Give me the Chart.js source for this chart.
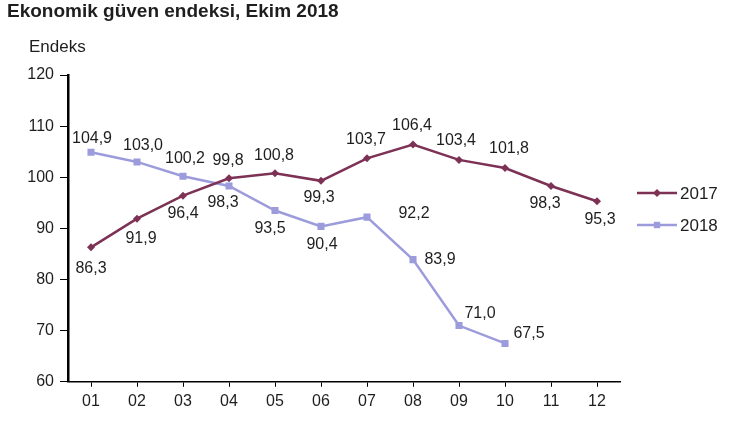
<!DOCTYPE html>
<html>
<head>
<meta charset="utf-8">
<script src="https://cdn.jsdelivr.net/npm/chart.js@4.4.0/dist/chart.umd.min.js"></script>
<style>
  html, body { margin: 0; padding: 0; background: #fff; }
  #wrap { width: 750px; height: 422px; }
</style>
</head>
<body>
<div id="wrap"><canvas id="guvenChart"></canvas></div>
<script>
// Chart data
const months = ['01', '02', '03', '04', '05', '06', '07', '08', '09', '10', '11', '12'];
const values2017 = [86.3, 91.9, 96.4, 99.8, 100.8, 99.3, 103.7, 106.4, 103.4, 101.8, 98.3, 95.3];
const values2018 = [104.9, 103.0, 100.2, 98.3, 93.5, 90.4, 92.2, 83.9, 71.0, 67.5];
const seriesNames = ['2017', '2018'];
const yMin = 60, yMax = 120, yStep = 10;

// Label offsets (dx, dy) relative to each point
const labelOffsets2017 = [[0, 21], [4, 20], [0, 18], [-1, -18], [-1, -18], [-2, 17], [-1, -19], [-1, -19], [-3, -19], [4, -19], [-6, 18], [3, 18]];
const labelOffsets2018 = [[1, -14], [6, -16], [2, -18], [-6, 17], [-5, 18], [1, 18], [47, -4], [27, 0], [21, -12], [24, -10]];

const color2017 = '#7d3155';
const color2018 = '#9c9cdc';
const textColor = '#1e1e1e';
const fontFamily = "'Liberation Sans', Arial, sans-serif";

function fmt(v) {
    return v.toFixed(1).replace('.', ',');
}

// Draws title, axis caption, point values and the legend
const decorPlugin = {
    id: 'decor',
    afterDatasetsDraw(chart) {
        const ctx = chart.ctx;
        ctx.save();
        ctx.fillStyle = textColor;

        // title
        ctx.font = 'bold 19px ' + fontFamily;
        ctx.textAlign = 'left';
        ctx.textBaseline = 'middle';
        ctx.fillText('Ekonomik güven endeksi, Ekim 2018', 7, 12);

        // axis caption
        ctx.font = '17px ' + fontFamily;
        ctx.fillText('Endeks', 29, 47);

        // value labels
        ctx.font = '16px ' + fontFamily;
        ctx.textAlign = 'center';
        const offsets = [labelOffsets2017, labelOffsets2018];
        chart.data.datasets.forEach((ds, di) => {
            const meta = chart.getDatasetMeta(di);
            meta.data.forEach((pt, i) => {
                const o = offsets[di][i];
                ctx.fillText(fmt(ds.data[i]), pt.x + o[0], pt.y + o[1]);
            });
        });

        // legend
        const items = [
            { name: seriesNames[0], color: color2017, style: 'rectRot', r: 4, y: 193 },
            { name: seriesNames[1], color: color2018, style: 'rect', r: 4.5, y: 225 }
        ];
        items.forEach(it => {
            ctx.strokeStyle = it.color;
            ctx.lineWidth = 2.5;
            ctx.beginPath();
            ctx.moveTo(637, it.y);
            ctx.lineTo(677, it.y);
            ctx.stroke();
            ctx.fillStyle = it.color;
            Chart.helpers.drawPoint(ctx, { pointStyle: it.style, radius: it.r, borderWidth: 0 }, 657, it.y);
            ctx.fillStyle = textColor;
            ctx.font = '17px ' + fontFamily;
            ctx.textAlign = 'left';
            ctx.fillText(it.name, 680, it.y + 1);
        });
        ctx.restore();
    }
};

const chart = new Chart(document.getElementById('guvenChart'), {
    type: 'line',
    data: {
        labels: months,
        datasets: [{
            label: seriesNames[0],
            data: values2017,
            borderColor: color2017,
            backgroundColor: color2017,
            borderWidth: 2.5,
            pointStyle: 'rectRot',
            pointRadius: 4,
            pointBorderWidth: 0,
            tension: 0
        }, {
            label: seriesNames[1],
            data: values2018,
            borderColor: color2018,
            backgroundColor: color2018,
            borderWidth: 2.5,
            pointStyle: 'rect',
            pointRadius: 5,
            pointBorderWidth: 0,
            tension: 0
        }]
    },
    options: {
        responsive: true,
        maintainAspectRatio: false,
        animation: false,
        layout: {
            padding: { top: 75, right: 130, bottom: 6, left: 0 }
        },
        plugins: {
            legend: { display: false },
            tooltip: { enabled: false }
        },
        scales: {
            x: {
                offset: true,
                grid: {
                    drawOnChartArea: false,
                    offset: false,
                    color: '#000',
                    tickLength: 5
                },
                border: { color: '#000', width: 1.5 },
                ticks: {
                    color: textColor,
                    font: { family: fontFamily, size: 16 },
                    padding: 5,
                    maxRotation: 0
                }
            },
            y: {
                min: yMin,
                max: yMax,
                afterFit: function(scale) { scale.width = 68; },
                grid: {
                    drawOnChartArea: false,
                    color: '#000',
                    tickLength: 8
                },
                border: { color: '#000', width: 2.5 },
                ticks: {
                    stepSize: yStep,
                    color: textColor,
                    font: { family: fontFamily, size: 16 },
                    padding: 6
                }
            }
        }
    },
    plugins: [decorPlugin]
});
</script>
</body>
</html>
